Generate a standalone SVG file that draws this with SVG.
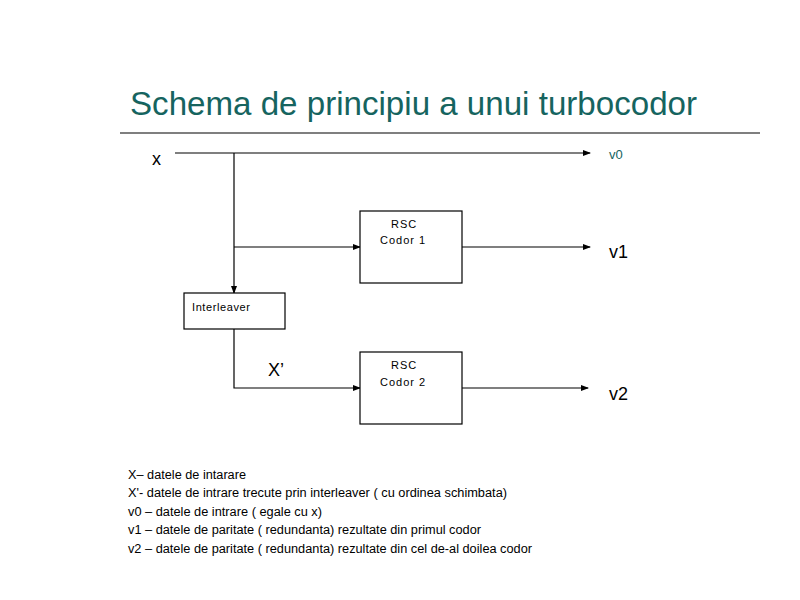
<svg xmlns="http://www.w3.org/2000/svg" width="800" height="600" viewBox="0 0 800 600">
<style>
.ln{stroke:#000;stroke-width:1.2;fill:none}
.box{stroke:#000;stroke-width:1.2;fill:#fff}
.t{font-family:"Liberation Sans",Arial,sans-serif;fill:#000}
.small{font-size:11px;letter-spacing:1px}
.lbl{font-size:18px}
.leg{font-size:12.5px}
</style>
<defs>
<marker id="ah" markerWidth="8" markerHeight="6" refX="7" refY="3" orient="auto" markerUnits="userSpaceOnUse">
<path d="M0,0 L8,3 L0,6 Z" fill="#000"/>
</marker>
</defs>
<rect width="800" height="600" fill="#fff"/>
<text class="t" x="130" y="115" font-size="34" textLength="567" lengthAdjust="spacingAndGlyphs" style="fill:#16645f">Schema de principiu a unui turbocodor</text>
<line x1="120" y1="133" x2="760" y2="133" stroke="#000" stroke-width="1.2"/>
<g id="connectors">
<line class="ln" x1="175" y1="153" x2="590" y2="153" marker-end="url(#ah)"/>
<line class="ln" x1="234" y1="153" x2="234" y2="293" marker-end="url(#ah)"/>
<line class="ln" x1="234" y1="247" x2="360" y2="247" marker-end="url(#ah)"/>
<line class="ln" x1="462" y1="247" x2="590" y2="247" marker-end="url(#ah)"/>
<polyline class="ln" points="234,329 234,388 360,388" marker-end="url(#ah)"/>
<line class="ln" x1="462" y1="388" x2="588" y2="388" marker-end="url(#ah)"/>
</g>
<g id="input-x"><text class="t lbl" x="152" y="165">x</text></g>
<g id="out-v0"><text class="t" x="609" y="159" font-size="13" style="fill:#16645f">v0</text></g>
<g id="out-v1"><text class="t lbl" x="609" y="258">v1</text></g>
<g id="out-v2"><text class="t lbl" x="609" y="400">v2</text></g>
<g id="label-xp"><text class="t lbl" x="268" y="376">X’</text></g>
<g id="rsc1">
<rect class="box" x="360" y="211" width="102" height="72"/>
<text class="t small" x="391" y="228">RSC</text>
<text class="t small" x="380" y="244">Codor 1</text>
</g>
<g id="interleaver">
<rect class="box" x="184" y="293" width="101" height="36"/>
<text class="t small" x="192" y="311" style="letter-spacing:0.6px">Interleaver</text>
</g>
<g id="rsc2">
<rect class="box" x="360" y="352" width="102" height="72"/>
<text class="t small" x="391" y="369">RSC</text>
<text class="t small" x="380" y="386">Codor 2</text>
</g>
<g id="legend">
<text class="t leg" x="128" y="479" textLength="118" lengthAdjust="spacingAndGlyphs">X– datele de intarare</text>
<text class="t leg" x="128" y="497" textLength="379" lengthAdjust="spacingAndGlyphs">X'- datele de intrare trecute prin interleaver ( cu ordinea schimbata)</text>
<text class="t leg" x="128" y="516" textLength="194" lengthAdjust="spacingAndGlyphs">v0 – datele de intrare ( egale cu x)</text>
<text class="t leg" x="128" y="534" textLength="353" lengthAdjust="spacingAndGlyphs">v1 – datele de paritate ( redundanta) rezultate din primul codor</text>
<text class="t leg" x="128" y="553" textLength="404" lengthAdjust="spacingAndGlyphs">v2 – datele de paritate ( redundanta) rezultate din cel de-al doilea codor</text>
</g>
</svg>
